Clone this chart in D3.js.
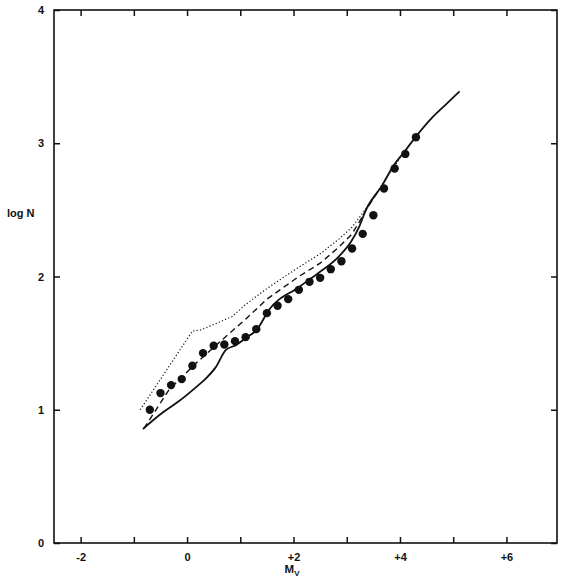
<!DOCTYPE html>
<html>
<head>
  <meta charset="UTF-8">
  <style>
    body { margin: 0; background: #fff; }
    svg text { font-family: "Liberation Sans", Arial, sans-serif; font-weight: bold; fill: #111; }
  </style>
  <title>log N vs Mv</title>
</head>
<body>
<svg></svg>
<script src="https://d3js.org/d3.v7.min.js"></script>
<script>

let width = 570, height = 579;

// observed counts (dots)
let dotMv   = [-0.7, -0.5, -0.3, -0.1, 0.1, 0.3, 0.5, 0.7, 0.9, 1.1, 1.3, 1.5, 1.7,
               1.9, 2.1, 2.3, 2.5, 2.7, 2.9, 3.1, 3.3, 3.5, 3.7, 3.9, 4.1, 4.3];
let dotLogN = [1.00, 1.125, 1.185, 1.23, 1.33, 1.425, 1.48, 1.49, 1.515, 1.545, 1.605, 1.725, 1.78,
               1.83, 1.90, 1.96, 1.99, 2.055, 2.115, 2.21, 2.32, 2.46, 2.66, 2.81, 2.92, 3.045];

// solid curve
let solidMv   = [-0.83, -0.47, -0.15, 0.17, 0.38, 0.54, 0.73, 0.92, 1.11, 1.31, 1.54, 2.1,
                 2.48, 2.85, 3.08, 3.23, 3.36, 3.66, 3.86, 4.09, 4.30, 4.60, 4.86, 5.12];
let solidLogN = [0.855, 0.975, 1.065, 1.17, 1.245, 1.32, 1.45, 1.485, 1.54, 1.60, 1.75, 1.92,
                 2.03, 2.15, 2.26, 2.37, 2.50, 2.68, 2.82, 2.94, 3.05, 3.19, 3.29, 3.39];

// dashed curve
let dashMv   = [-0.81, -0.34, 0.17, 0.73, 1.1, 1.5, 2.1, 2.5, 2.85, 3.1, 3.25, 3.38, 3.6];
let dashLogN = [0.86, 1.15, 1.35, 1.55, 1.68, 1.83, 2.00, 2.10, 2.22, 2.32, 2.42, 2.51, 2.65];

// dotted curve
let dotdMv   = [-0.88, 0.10, 0.27, 0.85, 1.1, 1.5, 2.1, 2.5, 2.85, 3.1, 3.25, 3.38, 3.7, 4.0];
let dotdLogN = [1.00, 1.59, 1.60, 1.70, 1.79, 1.91, 2.07, 2.17, 2.28, 2.37, 2.45, 2.52, 2.71, 2.89];

let xTicks = [-2, -1, 0, 1, 2, 3, 4, 5, 6];
let yTicks = [0, 1, 2, 3, 4];

let svg = d3.select("svg")
    .attr("width", width)
    .attr("height", height);

let x = d3.scaleLinear().domain([-2.5, 6.95]).range([54, 557]);
let y = d3.scaleLinear().domain([0, 4]).range([543, 10]);

let xLabel = d => (d % 2 !== 0) ? "" : (d > 0 ? "+" + d : String(d).replace("\u2212", "-"));

// axes, ticks inside the frame
let gB = svg.append("g").attr("transform", "translate(0,543)")
    .call(d3.axisBottom(x).tickValues(xTicks).tickSize(-6).tickPadding(10).tickFormat(xLabel));
let gT = svg.append("g").attr("transform", "translate(0,10)")
    .call(d3.axisTop(x).tickValues(xTicks).tickSize(-6).tickFormat(""));
let gL = svg.append("g").attr("transform", "translate(54,0)")
    .call(d3.axisLeft(y).tickValues(yTicks).tickSize(-6).tickPadding(10).tickFormat(d3.format("d")));
let gR = svg.append("g").attr("transform", "translate(557,0)")
    .call(d3.axisRight(y).tickValues(yTicks).tickSize(-6).tickFormat(""));

[gB, gT, gL, gR].forEach(g => {
    g.select(".domain").remove();
    g.selectAll(".tick line").attr("stroke", "#111").attr("stroke-width", 1.5);
    g.selectAll("text").attr("font-size", 11).attr("font-family", null).attr("fill", "#111");
});

svg.append("rect")
    .attr("x", 54).attr("y", 10)
    .attr("width", 557 - 54).attr("height", 543 - 10)
    .attr("fill", "none")
    .attr("stroke", "#111")
    .attr("stroke-width", 1.6);

// axis titles
svg.append("text")
    .attr("x", 7).attr("y", 217)
    .attr("font-size", 11)
    .text("log N");

let mv = svg.append("text")
    .attr("x", 292).attr("y", 573)
    .attr("text-anchor", "middle")
    .attr("font-size", 11.5);
mv.append("tspan").text("M");
mv.append("tspan").attr("font-size", 8).attr("dy", 3).text("V");

// curves
let line = d3.line().x(d => x(d[0])).y(d => y(d[1]));

svg.append("path")
    .datum(d3.zip(dotdMv, dotdLogN))
    .attr("d", line)
    .attr("fill", "none")
    .attr("stroke", "#111")
    .attr("stroke-width", 1.2)
    .attr("stroke-dasharray", "1.2,2.2");

svg.append("path")
    .datum(d3.zip(dashMv, dashLogN))
    .attr("d", line)
    .attr("fill", "none")
    .attr("stroke", "#111")
    .attr("stroke-width", 1.4)
    .attr("stroke-dasharray", "6,4");

svg.append("path")
    .datum(d3.zip(solidMv, solidLogN))
    .attr("d", d3.line().curve(d3.curveMonotoneX).x(d => x(d[0])).y(d => y(d[1])))
    .attr("fill", "none")
    .attr("stroke", "#111")
    .attr("stroke-width", 1.8);

svg.append("g")
    .selectAll("circle")
    .data(d3.zip(dotMv, dotLogN))
    .enter()
    .append("circle")
    .attr("cx", d => x(d[0]))
    .attr("cy", d => y(d[1]))
    .attr("r", 4.2)
    .attr("fill", "#111");

</script>
</body>
</html>
